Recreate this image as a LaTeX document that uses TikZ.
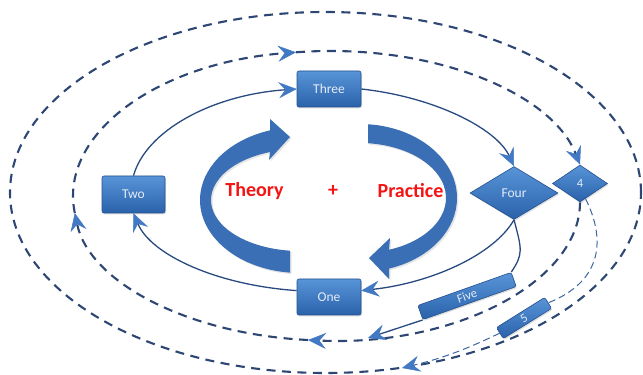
\documentclass[tikz,border=0pt]{standalone}
\usepackage{fontspec}
\setmainfont{Carlito}
\usetikzlibrary{arrows.meta,shapes.geometric,shadows,backgrounds}
\definecolor{boxtop}{RGB}{88,148,216}
\definecolor{boxbot}{RGB}{42,98,170}
\definecolor{boxedge}{RGB}{36,80,142}
\definecolor{boxtext}{RGB}{228,236,246}
\definecolor{blockblue}{RGB}{58,111,181}
\definecolor{tipblue}{RGB}{66,121,196}
\definecolor{solidline}{RGB}{40,74,128}
\definecolor{dashline}{RGB}{45,70,115}
\definecolor{thindash}{RGB}{62,102,162}
\definecolor{redtext}{RGB}{245,20,20}
\begin{document}
\begin{tikzpicture}[x=1pt,y=1pt,
  box/.style={rectangle, rounded corners=2pt, draw=boxedge, line width=0.6pt,
    top color=boxtop, bottom color=boxbot, text=boxtext, inner sep=0pt,
    font=\fontsize{13.5}{15}\selectfont,
    drop shadow={opacity=0.25, shadow xshift=1pt, shadow yshift=-1.5pt}},
  dia/.style={diamond, draw=boxedge, line width=0.6pt,
    top color=boxtop, bottom color=boxbot, text=boxtext, inner sep=0pt,
    font=\fontsize{13.5}{15}\selectfont,
    drop shadow={opacity=0.25, shadow xshift=1pt, shadow yshift=-1.5pt}},
  lab/.style={text=redtext, font=\bfseries\fontsize{20}{24}\selectfont, inner sep=0pt},
  headarrow/.style={-{Stealth[length=18pt,width=16pt,inset=6.5pt,line width=0.5pt,color=tipblue]}},
  solidconn/.style={draw=solidline, line width=1.3pt},
  dashconn/.style={draw=dashline, line width=2.1pt, dash pattern=on 9pt off 6.5pt},
  thinconn/.style={draw=thindash, line width=1pt, dash pattern=on 7pt off 4pt},
  blockarrow/.style={fill=blockblue, drop shadow={opacity=0.2, shadow xshift=1.5pt, shadow yshift=-1.5pt}}
]
\useasboundingbox (0,0) rectangle (643,375);

% nodes
\node[box, minimum width=64pt, minimum height=36pt] (three) at (329,286) {Three};
\node[box, minimum width=63pt, minimum height=37pt] (two) at (133.5,180.5) {Two};
\node[box, minimum width=64pt, minimum height=36pt] (one) at (329,78) {One};
\node[dia, minimum width=88pt, minimum height=53pt] (four) at (514,182) {Four};
\node[dia, minimum width=55pt, minimum height=37pt, font=\fontsize{12.5}{14}\selectfont] (d4) at (580,191.5) {4};
\node[box, minimum width=99pt, minimum height=15pt, rotate=19.5, font=\fontsize{12.5}{14}\selectfont] (five) at (467,79) {Five};
\node[box, minimum width=57pt, minimum height=13pt, rotate=32, font=\fontsize{12.5}{14}\selectfont] (s5) at (524,57) {5};

\node[lab, anchor=base] (theory) at (254.5,178) {Theory};
\node[lab, anchor=base] (plus) at (333,178) {+};
\node[lab, anchor=base] (practice) at (410.5,177) {Practice};

\coordinate (mB) at (308,35);
\coordinate (mL) at (74.8,162);
\coordinate (mT) at (296,322.7);
\coordinate (f5end) at (368,37);
\coordinate (e5) at (402,7);

\begin{pgfonlayer}{background}
\fill[white] (0,0) rectangle (643,375);

% outer dashed loop
\draw[dashconn] (325.5,182.5) ellipse[x radius=315.5, y radius=180.5];

% middle dashed loop
\draw[dashconn, headarrow] (d4.south) .. controls +(0,-80) and +(145.6,-7.1) .. (mB);
\draw[dashconn, headarrow] (mB) .. controls +(-121.5,5.9) and +(14.2,-68.4) .. (mL);
\draw[dashconn, headarrow] (mL) .. controls +(-16.4,78.7) and +(-139.2,-10.5) .. (mT);
\draw[dashconn, headarrow] (mT) .. controls +(132.4,10) and +(-28.9,73.6) .. (d4.north);

% thin dashed path through 5
\draw[thinconn] (d4.-70) .. controls +(20,-40) and +(55,22) .. (s5.east);
\draw[thinconn, headarrow] (s5.west) to[bend left=6] (e5);

% inner solid loop
\draw[solidconn, headarrow] ([yshift=6.4pt]one.west) .. controls +(-80,5.5) and +(17.5,-41.5) .. (two.south);
\draw[solidconn, headarrow] (two.north) .. controls +(12.4,44.7) and +(-85.2,-5.9) .. (three.west);
\draw[solidconn, headarrow] (three.east) .. controls +(72.6,-7.9) and +(-17.6,37.9) .. (four.north);
\draw[solidconn, headarrow] (four.south) .. controls +(-20.3,-35.5) and +(69,7.5) .. ([yshift=6.4pt]one.east);

% four to five, five onwards
\draw[solidconn] (four.south) .. controls +(8,-30) and +(12,18) .. (five.north east);
\draw[solidconn, headarrow] (five.south west) -- (f5end);

% block arrows
\begin{scope}[shift={(300,175)}]
\fill[blockarrow] (264.3:100 and 73) arc[start angle=264.3, end angle=107.46, x radius=100, y radius=73]
  -- (-30,81) -- (-10,63) -- (-31,40)
  -- (109.7:89 and 51) arc[start angle=109.7, end angle=263.55, x radius=89, y radius=51] -- cycle;
\end{scope}
\begin{scope}[shift={(360,177)}]
\fill[blockarrow] (85.27:97 and 74) arc[start angle=85.27, end angle=-72.6, x radius=97, y radius=74]
  -- (29,-81) -- (9,-60) -- (30,-40)
  -- (-70.3:86 and 55) arc[start angle=-70.3, end angle=84.66, x radius=86, y radius=55] -- cycle;
\end{scope}
\end{pgfonlayer}
\end{tikzpicture}
\end{document}
